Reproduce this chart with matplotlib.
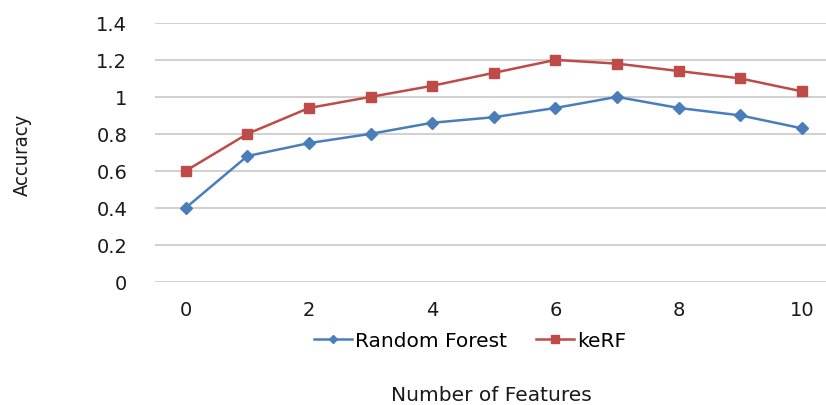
import matplotlib.pyplot as plt

# accuracy against number of features for the two models
n_features = [0, 1, 2, 3, 4, 5, 6, 7, 8, 9, 10]
random_forest = [0.40, 0.68, 0.75, 0.80, 0.86, 0.89, 0.94, 1.00, 0.94, 0.90, 0.83]
kerf = [0.60, 0.80, 0.94, 1.00, 1.06, 1.13, 1.20, 1.18, 1.14, 1.10, 1.03]
y_ticks = [0, 0.2, 0.4, 0.6, 0.8, 1.0, 1.2, 1.4]
y_labels = ['0', '0.2', '0.4', '0.6', '0.8', '1', '1.2', '1.4']
x_ticks = [0, 2, 4, 6, 8, 10]

plt.rcParams['font.family'] = ['DejaVu Sans']

fig = plt.figure(figsize=(8.26, 4.06), dpi=100)
ax = fig.add_axes([0.1877, 0.3037, 0.8203, 0.6373])

ax.plot(n_features, random_forest, color='#4a7ebb', lw=1.8, marker='D',
        markersize=6, label='Random Forest')
ax.plot(n_features, kerf, color='#be4b48', lw=1.8, marker='s',
        markersize=7, label='keRF')

ax.set_xlim(-0.5, 10.5)
ax.set_ylim(0, 1.4)
ax.set_yticks(y_ticks)
ax.set_yticklabels(y_labels)
ax.set_xticks(x_ticks)
ax.tick_params(axis='both', length=0, labelsize=14, colors='#1a1a1a')
ax.tick_params(axis='y', pad=20)
ax.tick_params(axis='x', pad=13)
ax.grid(axis='y', color='#d0d0d0', lw=1.4)
ax.set_axisbelow(True)
for s in ax.spines.values():
    s.set_visible(False)

fig.legend(loc='center', bbox_to_anchor=(470 / 826, 1 - 342 / 406), ncol=2,
           frameon=False, fontsize=14.5, handlelength=1.9, handletextpad=0.15,
           columnspacing=1.4, markerscale=0.75)

fig.text(491 / 826, 1 - 396 / 406, 'Number of Features', ha='center',
         va='center', fontsize=14.5, color='#1a1a1a')
fig.text(22 / 826, 1 - 155 / 406, 'Accuracy', rotation=90, ha='center',
         va='center', fontsize=14.5, color='#1a1a1a',
         family=['DejaVu Sans'], fontstretch='condensed')

fig.savefig('out.png', dpi=100)
